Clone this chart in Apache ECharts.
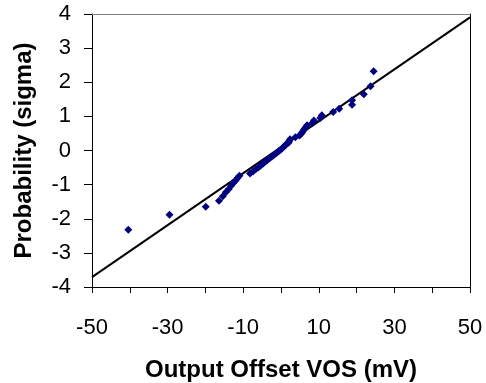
<!DOCTYPE html>
<html>
<head>
<meta charset="utf-8">
<script src="https://cdn.jsdelivr.net/npm/echarts@6/dist/echarts.min.js"></script>
<style>
  html, body { margin: 0; padding: 0; background: #ffffff; }
  #chart { width: 486px; height: 383px; }
</style>
</head>
<body>
<div id="chart"></div>
<script>
// Measured output offset of each unit, sorted (mV)
const offsetMv = [
  -40.4, -29.5, -19.9, -16.4, -15.4, -14.6, -13.8, -13.2, -12.6, -12.0,
  -11.5, -11.0, -8.2, -7.4, -6.7, -6.0, -5.4, -4.8, -4.2, -3.6,
  -3.0, -2.4, -1.8, -1.2, -0.6, -0.1, 0.4, 0.9, 1.3, 2.0,
  2.2, 2.4, 3.8, 4.9, 5.4, 5.7, 6.1, 6.5, 6.9, 8.3,
  8.7, 10.4, 10.8, 13.8, 15.4, 18.8, 18.8, 21.9, 23.7, 24.5
];
// Normal score (sigma) of each ranked unit
const sigmaScore = [
  -2.326, -1.881, -1.645, -1.476, -1.341, -1.227, -1.126, -1.036, -0.954, -0.878,
  -0.806, -0.739, -0.674, -0.613, -0.553, -0.496, -0.440, -0.385, -0.332, -0.279,
  -0.228, -0.176, -0.126, -0.075, -0.025, 0.025, 0.075, 0.126, 0.176, 0.228,
  0.279, 0.332, 0.385, 0.440, 0.496, 0.553, 0.613, 0.674, 0.739, 0.806,
  0.878, 0.954, 1.036, 1.126, 1.227, 1.341, 1.476, 1.645, 1.881, 2.326
];
// Ideal normal-distribution reference line
const fitLineX = [-50, 50];
const fitLineY = [-3.71, 3.90];

const xTitle = 'Output Offset VOS (mV)';
const yTitle = 'Probability (sigma)';

const font = 'Arial, "Liberation Sans", Helvetica, sans-serif';

const points = offsetMv.map((v, i) => [v, sigmaScore[i]]);
const fitLine = fitLineX.map((v, i) => [v, fitLineY[i]]);

const chart = echarts.init(document.getElementById('chart'), null, { renderer: 'canvas' });
chart.setOption({
  animation: false,
  backgroundColor: '#ffffff',
  grid: {
    left: 92, right: 16, top: 14, bottom: 96,
    containLabel: false, outerBoundsMode: 'none'
  },
  xAxis: [
    {
      type: 'value', min: -50, max: 50, interval: 10,
      name: xTitle, nameLocation: 'middle', nameGap: 71,
      nameTextStyle: { fontFamily: font, fontSize: 24, fontWeight: 'bold', color: '#000' },
      axisLine: { onZero: false, lineStyle: { color: '#000', width: 1 } },
      axisTick: { show: true, inside: false, length: 6, lineStyle: { color: '#000' } },
      axisLabel: {
        margin: 30, fontFamily: font, fontSize: 22, color: '#000',
        formatter: v => (Math.round(v / 10) % 2 !== 0 ? String(v) : '')
      },
      splitLine: { show: false }
    },
    {
      type: 'value', position: 'top', min: -50, max: 50,
      axisLine: { show: true, onZero: false, lineStyle: { color: '#808080', width: 1 } },
      axisTick: { show: false }, axisLabel: { show: false }, splitLine: { show: false }
    }
  ],
  yAxis: [
    {
      type: 'value', min: -4, max: 4, interval: 1,
      name: yTitle, nameLocation: 'middle', nameGap: 56, nameRotate: 90,
      nameTextStyle: { fontFamily: font, fontSize: 24, fontWeight: 'bold', color: '#000' },
      axisLine: { show: true, onZero: false, lineStyle: { color: '#000', width: 1 } },
      axisTick: { show: true, inside: false, length: 8, lineStyle: { color: '#000' } },
      axisLabel: { margin: 21, fontFamily: font, fontSize: 22, color: '#000' },
      splitLine: { show: false }
    },
    {
      type: 'value', position: 'right', min: -4, max: 4,
      axisLine: { show: true, onZero: false, lineStyle: { color: '#000', width: 1 } },
      axisTick: { show: false }, axisLabel: { show: false }, splitLine: { show: false }
    }
  ],
  series: [
    {
      type: 'line', data: fitLine, xAxisIndex: 0, yAxisIndex: 0,
      showSymbol: false, symbol: 'none',
      lineStyle: { color: '#000', width: 2 }, z: 2
    },
    {
      type: 'scatter', data: points, xAxisIndex: 0, yAxisIndex: 0,
      symbol: 'diamond', symbolSize: 8,
      itemStyle: { color: '#000080', opacity: 1 }, z: 3
    }
  ]
});
</script>
</body>
</html>
